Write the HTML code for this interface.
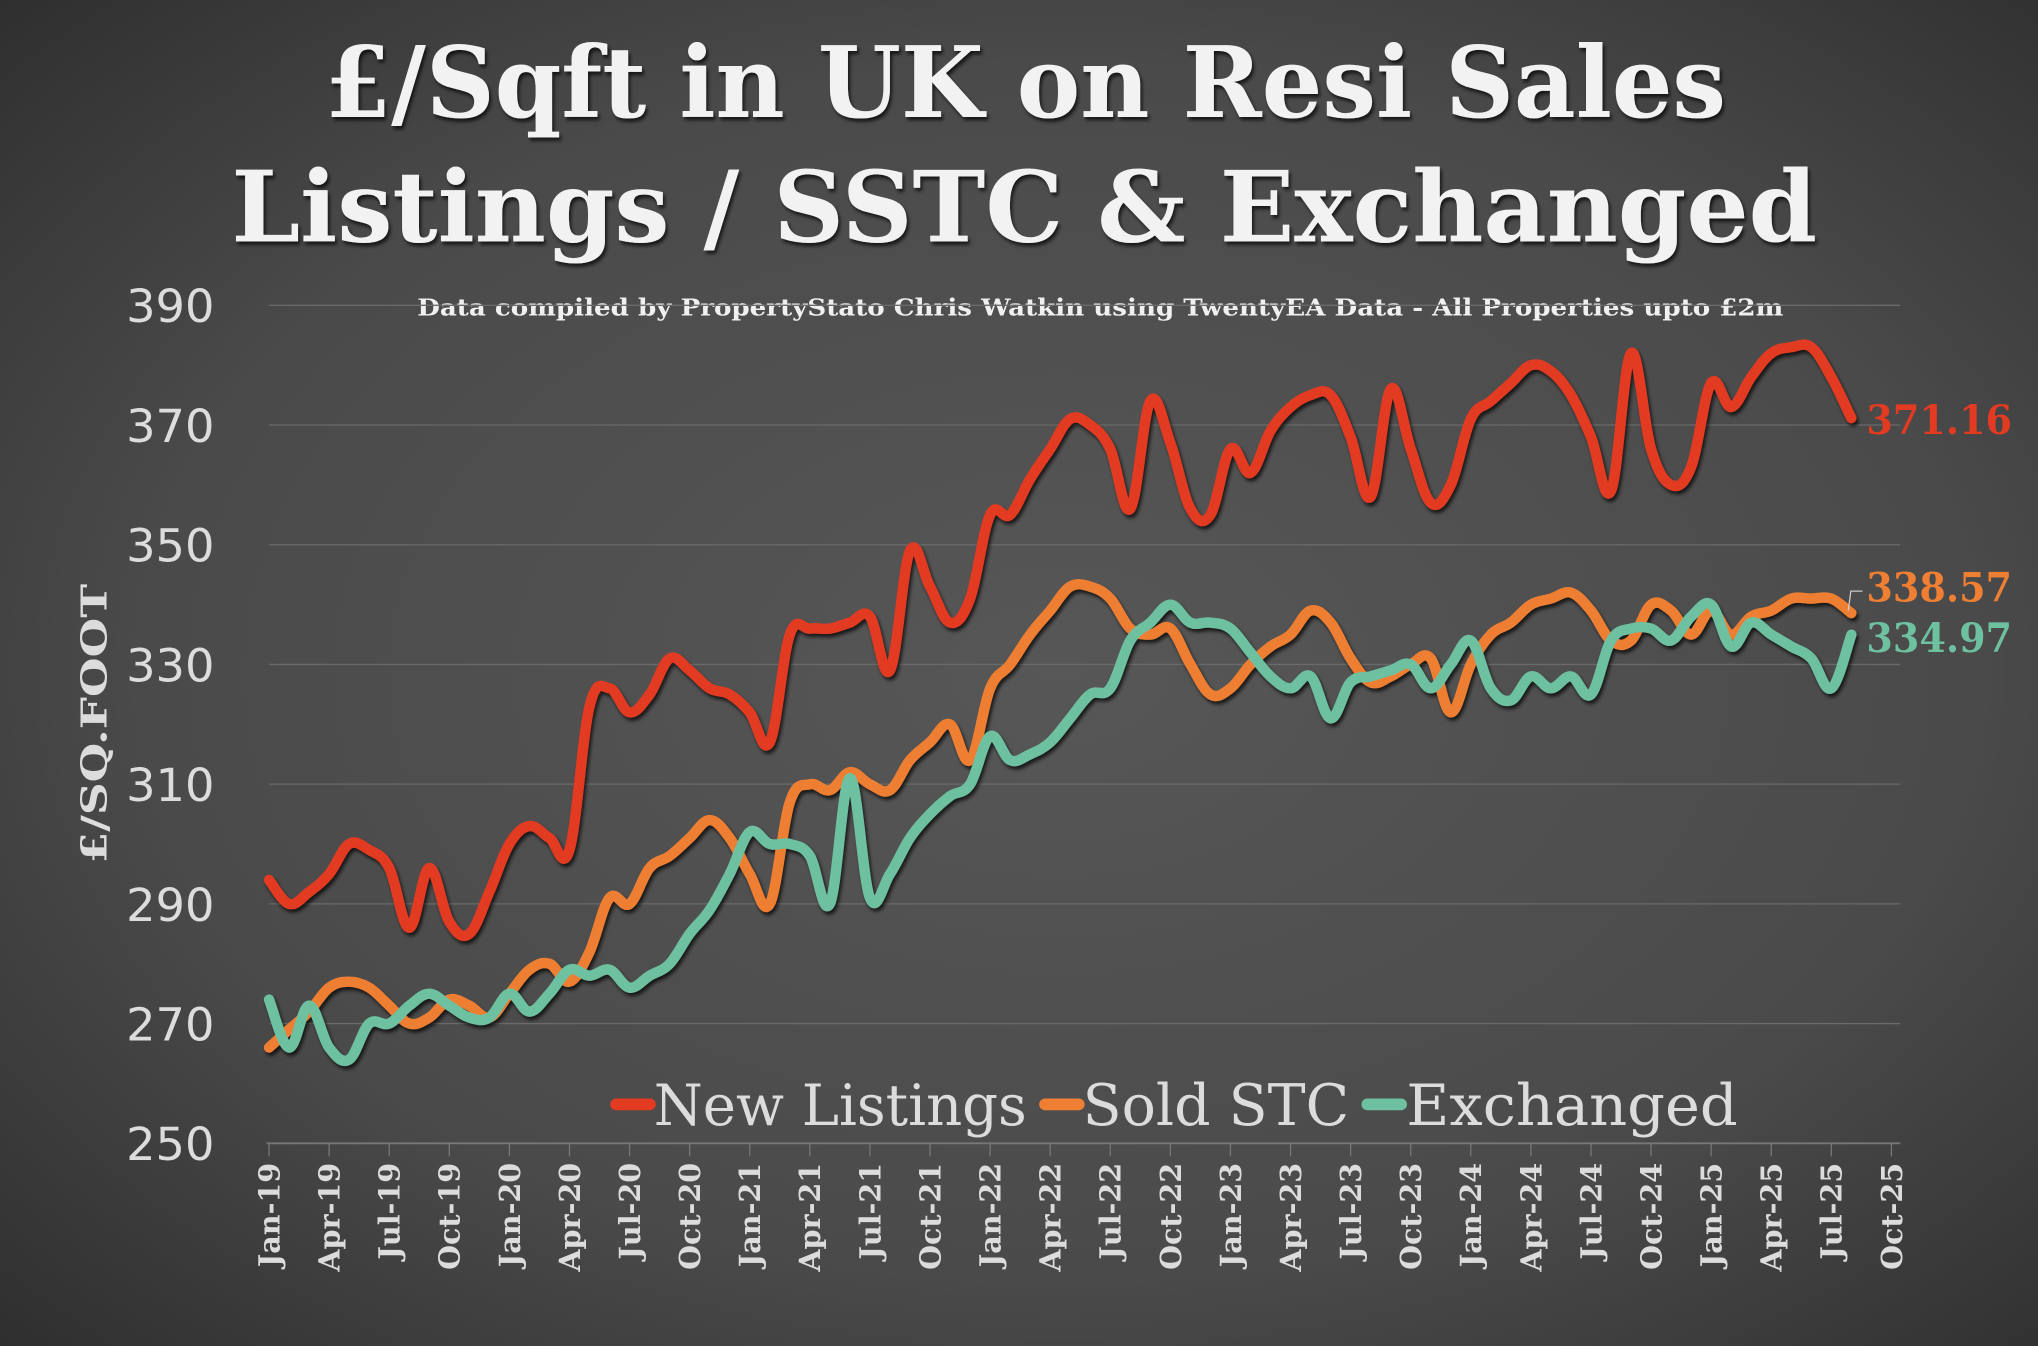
<!DOCTYPE html>
<html><head><meta charset="utf-8"><style>
html,body{margin:0;padding:0;background:#3a3a3a;}
svg{display:block;}
</style></head><body>
<svg id="s" width="2038" height="1346" viewBox="0 0 1568 1036" preserveAspectRatio="none" xmlns="http://www.w3.org/2000/svg">
<defs>
<radialGradient id="bg" cx="0.52" cy="0.5" r="0.75">
<stop offset="0" stop-color="#575757"/><stop offset="0.6" stop-color="#4a4a4a"/><stop offset="1" stop-color="#2c2c2c"/>
</radialGradient>
<filter id="sh" x="-5%" y="-5%" width="110%" height="120%"><feDropShadow dx="1.5" dy="2.5" stdDeviation="1.5" flood-color="#000" flood-opacity="0.7"/></filter>
</defs>
<rect width="1568" height="1036" fill="url(#bg)"/>
<g font-family="'DejaVu Serif','Liberation Serif',serif" font-weight="bold" fill="#f2f2f2" filter="url(#sh)">
<text x="250" y="90" font-size="76" textLength="1078" lengthAdjust="spacingAndGlyphs">£/Sqft in UK on Resi Sales</text>
<text x="178" y="186" font-size="76" textLength="1220" lengthAdjust="spacingAndGlyphs">Listings / SSTC &amp; Exchanged</text>
</g>
<text x="321" y="243" font-family="'DejaVu Serif',serif" font-weight="bold" font-size="18" fill="#f0f0f0" textLength="1051" lengthAdjust="spacingAndGlyphs">Data compiled by PropertyStato Chris Watkin using TwentyEA Data - All Properties upto £2m</text>
<g id="grid" stroke="#6a6a6a" stroke-width="1"></g>
<g id="ylab" font-family="'DejaVu Sans','Liberation Sans',sans-serif" font-size="35" fill="#dcdcdc" text-anchor="end"></g>
<text transform="translate(82,557) rotate(-90)" text-anchor="middle" font-family="'DejaVu Serif',serif" font-weight="bold" font-size="27" fill="#dcdcdc" textLength="215" lengthAdjust="spacingAndGlyphs">£/SQ.FOOT</text>
<g id="xax" stroke="#777" stroke-width="1"></g>
<g id="xlab" font-family="'DejaVu Serif',serif" font-weight="bold" font-size="22" fill="#dcdcdc" text-anchor="end"></g>
<g id="lines" fill="none" stroke-width="8" stroke-linecap="round" stroke-linejoin="round" filter="url(#sh)"></g>
<g font-family="'DejaVu Serif',serif" font-weight="bold" font-size="31">
<text x="1436" y="334" fill="#e33a22" textLength="112" lengthAdjust="spacingAndGlyphs">371.16</text>
<text x="1436" y="463" fill="#ee7f33" textLength="112" lengthAdjust="spacingAndGlyphs">338.57</text>
<text x="1436" y="502" fill="#6ec1a0" textLength="112" lengthAdjust="spacingAndGlyphs">334.97</text>
</g>
<path d="M1422,470 L1424,455 L1433,455" stroke="#ccc" stroke-width="1" fill="none"/>
<g font-family="'DejaVu Serif',serif" font-size="44" fill="#dcdcdc">
<line x1="474" y1="850" x2="500" y2="850" stroke="#e33a22" stroke-width="9" stroke-linecap="round"/>
<text x="503" y="866" textLength="287" lengthAdjust="spacingAndGlyphs">New Listings</text>
<line x1="804" y1="850" x2="830" y2="850" stroke="#ee7f33" stroke-width="9" stroke-linecap="round"/>
<text x="833" y="866" textLength="205" lengthAdjust="spacingAndGlyphs">Sold STC</text>
<line x1="1052" y1="850" x2="1078" y2="850" stroke="#6ec1a0" stroke-width="9" stroke-linecap="round"/>
<text x="1082" y="866" textLength="255" lengthAdjust="spacingAndGlyphs">Exchanged</text>
</g>
</svg>
<script>
var NS="http://www.w3.org/2000/svg";
function Y(v){return 235+(390-v)*4.607;}
function X(i){return 207+i*15.41;}
function el(p,t,a,txt){var e=document.createElementNS(NS,t);for(var k in a)e.setAttribute(k,a[k]);if(txt)e.textContent=txt;document.getElementById(p).appendChild(e);return e;}
for(var v=270;v<=390;v+=20){el("grid","line",{x1:207,x2:1462,y1:Y(v),y2:Y(v)});}
for(var v=250;v<=390;v+=20){el("ylab","text",{x:165,y:Y(v)+13,textLength:68,lengthAdjust:"spacingAndGlyphs"},String(v));}
el("xax","line",{x1:205,x2:1462,y1:880,y2:880,"stroke-width":1.5});
var m=["Jan","Apr","Jul","Oct"];
for(var k=0;k<=27;k++){var x=X(k*3);el("xax","line",{x1:x,x2:x,y1:880,y2:890});
var lab=m[k%4]+"-"+(19+Math.floor(k/4));
el("xlab","text",{transform:"translate("+(x+8)+",895) rotate(-90)"},lab);}
var red=[294,290,292,295,300,299,296,286,296,287,285,292,300,303,301,299,323,326,322,325,331,329,326,325,322,317,335,336,336,337,338,329,349,343,337,341,355,355,361,366,371,370,366,356,374,367,356,355,366,362,369,373,375,375,368,358,376,366,357,360,371,374,377,380,379,375,368,359,382,366,360,363,377,373,378,382,383,383,378,371.16];
var org=[266,269,272,276,277,276,273,270,271,274,273,271,275,279,280,277,282,291,290,296,298,301,304,301,295,290,307,310,309,312,310,309,314,317,320,314,326,330,335,339,343,343,341,336,335,336,330,325,326,330,333,335,339,337,331,327,328,330,331,322,330,335,337,340,341,342,339,334,334,340,339,335,339,335,338,339,341,341,341,338.57];
var teal=[274,266,273,266,264,270,270,273,275,273,271,271,275,272,275,279,278,279,276,278,280,285,289,295,302,300,300,298,290,311,291,295,301,305,308,310,318,314,315,317,321,325,326,334,337,340,337,337,336,332,328,326,328,321,327,328,329,330,326,330,334,326,324,328,326,328,325,334,336,336,334,338,340,333,337,335,333,331,326,334.97];
function path(d){var p=d.map(function(v,i){return [X(i),Y(v)];});var s="M"+p[0][0].toFixed(1)+","+p[0][1].toFixed(1);
for(var i=0;i<p.length-1;i++){var p0=p[i-1]||p[i],p1=p[i],p2=p[i+1],p3=p[i+2]||p2,t=0.18;
var c1x=p1[0]+(p2[0]-p0[0])*t,c1y=p1[1]+(p2[1]-p0[1])*t,c2x=p2[0]-(p3[0]-p1[0])*t,c2y=p2[1]-(p3[1]-p1[1])*t;
s+=" C"+c1x.toFixed(1)+","+c1y.toFixed(1)+" "+c2x.toFixed(1)+","+c2y.toFixed(1)+" "+p2[0].toFixed(1)+","+p2[1].toFixed(1);}return s;}
el("lines","path",{d:path(red),stroke:"#e33a22"});
el("lines","path",{d:path(org),stroke:"#ee7f33"});
el("lines","path",{d:path(teal),stroke:"#6ec1a0"});
</script>
</body></html>
